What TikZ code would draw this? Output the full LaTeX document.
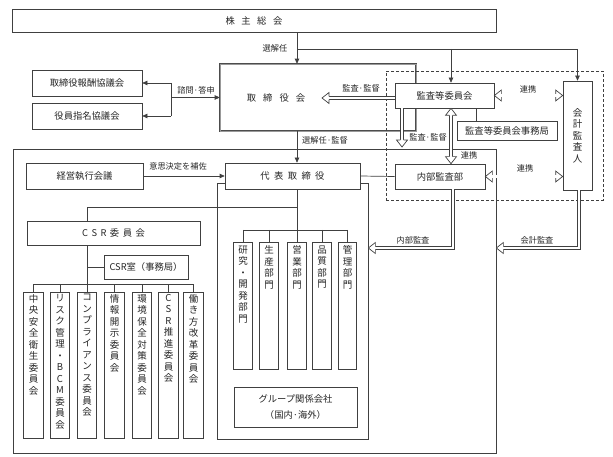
\documentclass[tikz,border=0pt]{standalone}
\usepackage{fontspec}
\setmainfont{Noto Sans CJK JP}
\usetikzlibrary{arrows.meta,calc}
\tikzset{
  x=1pt, y=-1pt,
  ln/.style={draw=black!75, line width=0.7pt},
  box/.style={ln, fill=white, inner sep=0pt, font=\fontsize{9.3}{11}\selectfont, text=black!85},
  lbl/.style={font=\fontsize{8.2}{10}\selectfont, text=black!85, inner sep=0pt},
  arr/.style={ln, -{Triangle[length=5pt,width=4.5pt]}},
  dl/.style={draw=black!75, line width=0.7pt, double=white, double distance=2.4pt},
  vt/.style={font=\fontsize{9.5}{11.5}\selectfont, align=center, inner sep=0pt, anchor=north, text=black!85},
  comm/.style={box, minimum width=19.5pt, minimum height=146pt},
  dept/.style={box, minimum width=18.5pt, minimum height=127pt},
}
\newcommand\ahead[2]{%
  \fill[white] ($(#1)!5.5pt!90:(#2)$) -- (#2) -- ($(#1)!5.5pt!-90:(#2)$) -- cycle;
  \draw[ln] ($(#1)!1.55pt!90:(#2)$) -- ($(#1)!5.5pt!90:(#2)$) -- (#2) -- ($(#1)!5.5pt!-90:(#2)$) -- ($(#1)!1.55pt!-90:(#2)$);}
\newcommand\harrow[2]{%
  \path (#1) coordinate (hA) (#2) coordinate (hT);
  \path ($(hT)!7pt!(hA)$) coordinate (hB);
  \draw[dl] (hA) -- (hB);
  \ahead{hB}{hT}}
\newcommand\dharrow[2]{%
  \path (#1) coordinate (hA) (#2) coordinate (hT);
  \path ($(hT)!7pt!(hA)$) coordinate (hB) ($(hA)!7pt!(hT)$) coordinate (hC);
  \draw[dl] (hC) -- (hB);
  \ahead{hB}{hT}\ahead{hC}{hA}}
\begin{document}
\begin{tikzpicture}
\useasboundingbox (0,0) rectangle (613,457);
\fill[white] (0,0) rectangle (613,457);

% helper coordinates
\coordinate (xa) at (297,0);
\coordinate (xb) at (451,0);
\coordinate (ja) at (297,49);
\coordinate (br) at (171,0);
\coordinate (x402) at (402,0);
\coordinate (x476) at (476,0);
\coordinate (xn) at (453,0);
\coordinate (xk) at (579,0);
\coordinate (ya) at (0,248);
\coordinate (db) at (0,230);
\coordinate (cb) at (0,207);
\coordinate (kb) at (0,284);
\coordinate (xcsr) at (87,0);

% top
\node[box, minimum width=484pt, minimum height=23pt] (kabu) at (254,20.5) {株\hspace{6.5pt}主\hspace{6.5pt}総\hspace{6.5pt}会};

% board of directors
\node[draw=black!70, line width=0.6pt, double=black!40, double distance=0.8pt, minimum width=196pt, minimum height=67pt, inner sep=0pt] (tori) at (318,97.5) {};
\node[box, draw=none, fill=none] (toriT) at (276,98) {取\hspace{7pt}締\hspace{7pt}役\hspace{7pt}会};

% executive big box and department container
\node[ln, minimum width=483pt, minimum height=304pt, inner sep=0pt] (exec) at (254.5,301) {};
\node[ln, minimum width=151pt, minimum height=256pt, inner sep=0pt] (deptc) at (292.5,311) {};

% dashed audit area
\node[draw=black!75, line width=0.7pt, dash pattern=on 3pt off 2pt, minimum width=217pt, minimum height=129pt, inner sep=0pt] (aud) at (494.5,135.5) {};

% boxes
\node[box, minimum width=110pt, minimum height=26pt] (hoshu) at (87,83) {取締役報酬協議会};
\node[box, minimum width=110pt, minimum height=26pt] (shimei) at (87,116) {役員指名協議会};
\node[box, minimum width=99pt, minimum height=25pt] (kansa) at (444.5,95.5) {監査等委員会};
\node[box, minimum width=100pt, minimum height=19pt] (jimu) at (507,130.5) {監査等委員会事務局};
\node[box, minimum width=29pt, minimum height=109pt] (kaikei) at (577.5,135.5) {};
\node[vt, anchor=center] at (kaikei.center) {会\\計\\監\\査\\人};
\node[box, minimum width=90pt, minimum height=25pt] (naibu) at (440,176.5) {内部監査部};
\node[box, minimum width=117pt, minimum height=26pt] (keiei) at (84.5,176) {経営執行会議};
\node[box, minimum width=135pt, minimum height=26pt] (daihyo) at (292.5,176) {代\hspace{4.4pt}表\hspace{4.4pt}取\hspace{4.4pt}締\hspace{4.4pt}役};
\node[box, minimum width=173pt, minimum height=24pt] (csr) at (113.5,233) {C\hspace{3.5pt}S\hspace{3.5pt}R\hspace{3.5pt}委\hspace{3.5pt}員\hspace{3.5pt}会};
\node[box, minimum width=84pt, minimum height=24pt] (shitsu) at (146,267) {CSR室（事務局）};

% committees
\node[comm] (k1) at (33.5,365) {};
\node[comm] (k2) at (60,365) {};
\node[comm] (k3) at (87,365) {};
\node[comm] (k4) at (114.5,365) {};
\node[comm] (k5) at (142,365) {};
\node[comm] (k6) at (168.5,365) {};
\node[comm] (k7) at (193.5,365) {};
\node[vt] at ($(k1.north)+(0,2.5)$) {中\\央\\安\\全\\衛\\生\\委\\員\\会};
\node[vt] at ($(k2.north)+(0,2.5)$) {リ\\ス\\ク\\管\\理\\・\\B\\C\\M\\委\\員\\会};
\node[vt] at ($(k3.north)+(0,2.5)$) {コ\\ン\\プ\\ラ\\イ\\ア\\ン\\ス\\委\\員\\会};
\node[vt] at ($(k4.north)+(0,2.5)$) {情\\報\\開\\示\\委\\員\\会};
\node[vt] at ($(k5.north)+(0,2.5)$) {環\\境\\保\\全\\対\\策\\委\\員\\会};
\node[vt] at ($(k6.north)+(0,2.5)$) {C\\S\\R\\推\\進\\委\\員\\会};
\node[vt] at ($(k7.north)+(0,2.5)$) {働\\き\\方\\改\\革\\委\\員\\会};

% departments
\node[dept] (d1) at (243,305.5) {};
\node[dept] (d2) at (269,305.5) {};
\node[dept] (d3) at (297,305.5) {};
\node[dept] (d4) at (322,305.5) {};
\node[dept] (d5) at (347.5,305.5) {};
\node[vt] at ($(d1.north)+(0,4)$) {研\\究\\・\\開\\発\\部\\門};
\node[vt] at ($(d2.north)+(0,4)$) {生\\産\\部\\門};
\node[vt] at ($(d3.north)+(0,4)$) {営\\業\\部\\門};
\node[vt] at ($(d4.north)+(0,4)$) {品\\質\\部\\門};
\node[vt] at ($(d5.north)+(0,4)$) {管\\理\\部\\門};

\node[box, minimum width=123pt, minimum height=40pt, align=center, font=\fontsize{9.3}{16}\selectfont] (group) at (295.5,407) {グループ関係会社\\（国内·海外）};

% connectors
\draw[arr] (kabu.south -| xa) -- (tori.north -| xa);
\draw[ln] (ja) -- (ja -| kaikei);
\draw[arr] (ja -| kaikei) -- (kaikei.north);
\draw[arr] (ja -| xb) -- (kansa.north -| xb);

\draw[ln] (br |- hoshu) -- (br |- shimei);
\draw[arr] (br |- hoshu) -- (hoshu.east);
\draw[arr] (br |- shimei) -- (shimei.east);
\draw[arr] (br |- tori) -- (tori.west);

\draw[arr] (tori.south -| xa) -- (daihyo.north -| xa);
\draw[arr] (keiei.east) -- (daihyo.west);
\draw[ln] (daihyo.east) -- (naibu.west);
\draw[ln] (kansa.south -| x476) -- (jimu.north -| x476);

\draw[ln] (daihyo.south -| xa) -- (xa |- db);
\draw[ln] (xa |- cb) -| (csr.north -| xcsr);
\draw[ln] (d1.north |- db) -- (d5.north |- db);
\foreach \d in {d1,d2,d3,d4,d5} \draw[ln] (\d.north |- db) -- (\d.north);

\draw[ln] (csr.south -| xcsr) -- (xcsr |- kb);
\draw[ln] (xcsr |- shitsu) -- (shitsu.west);
\draw[ln] (k1.north |- kb) -- (k7.north |- kb);
\foreach \k in {k1,k2,k3,k4,k5,k6,k7} \draw[ln] (\k.north |- kb) -- (\k.north);

% hollow arrows
\coordinate (t1) at (322,98);
\harrow{kansa.west |- t1}{t1}
\coordinate (t2) at (402,147);
\harrow{kansa.south -| x402}{t2}
\dharrow{kansa.south -| xb}{naibu.north -| xb}
\dharrow{kansa.east}{kaikei.west |- kansa}
\dharrow{naibu.east}{kaikei.west |- naibu}

\coordinate (t3) at (deptc.east |- ya);
\coordinate (b3) at ($(t3)+(7,0)$);
\draw[dl] (naibu.south -| xn) |- (b3);
\ahead{b3}{t3}
\coordinate (t4) at (exec.east |- ya);
\coordinate (b4) at ($(t4)+(7,0)$);
\draw[dl] (kaikei.south -| xk) |- (b4);
\ahead{b4}{t4}

% labels
\node[lbl] at (275,48) {選解任};
\node[lbl] at (196,90) {諮問·答申};
\node[lbl] at (361,88) {監査·監督};
\node[lbl] at (325,140) {選解任·監督};
\node[lbl] at (428,137) {監査·監督};
\node[lbl] at (469,155) {連携};
\node[lbl] at (528,89) {連携};
\node[lbl] at (525,168) {連携};
\node[lbl] at (178,166) {意思決定を補佐};
\node[lbl] at (413,240) {内部監査};
\node[lbl] at (537,240) {会計監査};
\end{tikzpicture}
\end{document}
